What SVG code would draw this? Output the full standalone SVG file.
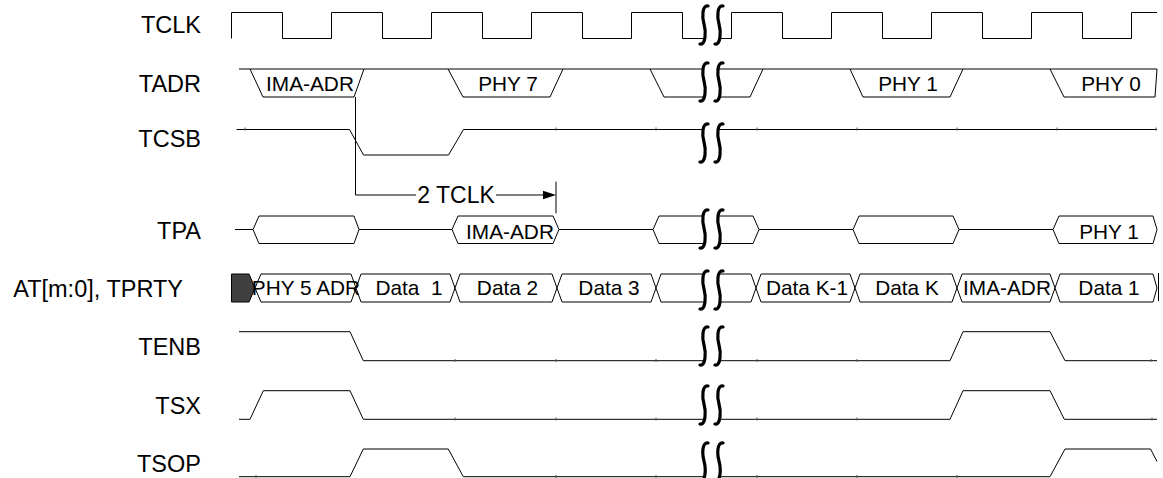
<svg xmlns="http://www.w3.org/2000/svg" xmlns:xlink="http://www.w3.org/1999/xlink" width="1163" height="478" viewBox="0 0 1163 478">
<style>
.sig{fill:none;stroke:#000;stroke-width:1}
.box{fill:#fff;stroke:#000;stroke-width:1}
.dark{fill:#404040;stroke:#000;stroke-width:1}
.lbl{font-family:"Liberation Sans",Arial,sans-serif;font-size:23.5px;text-anchor:end;fill:#000}
.in{font-family:"Liberation Sans",Arial,sans-serif;font-size:20.8px;text-anchor:middle;fill:#000}
.ann{font-family:"Liberation Sans",Arial,sans-serif;font-size:23px;text-anchor:middle;fill:#000}
.tick{stroke:#555;stroke-width:1}
.brkf{fill:#fff;stroke:none}
.brks{fill:none;stroke:#000;stroke-width:3.2;stroke-linecap:round}
</style>
<defs>
<g id="brk">
<path class="brkf" d="M4,-19 C-2,-20 -2,-8 0,-1 C2,6 2,20 -4,19 L11,19 C17,20 17,6 15,-1 C13,-8 13,-20 19,-19 Z"/>
<path class="brks" d="M4,-19 C-2,-20 -2,-8 0,-1 C2,6 2,20 -4,19"/>
<path class="brks" d="M19,-19 C13,-20 13,-8 15,-1 C17,6 17,20 11,19"/>
</g>
</defs>
<rect width="1163" height="478" fill="#fff"/>

<g id="labels">
<text class="lbl" x="201" y="33">TCLK</text>
<text class="lbl" x="201" y="91.5">TADR</text>
<text class="lbl" x="201" y="147">TCSB</text>
<text class="lbl" x="201" y="238.5">TPA</text>
<text class="lbl" x="183" y="296.5">AT[m:0], TPRTY</text>
<text class="lbl" x="201" y="355">TENB</text>
<text class="lbl" x="201" y="413.5">TSX</text>
<text class="lbl" x="201" y="472">TSOP</text>
</g>

<g id="TCLK">
<path class="sig" d="M231.5,38.5 V12.5 H282.5 V38.5 H331.5 V12.5 H382.5 V38.5 H431.5 V12.5 H482.5 V38.5 H531.5 V12.5 H582.5 V38.5 H631.5 V12.5 H682.5 V38.5 H731.5 V12.5 H782.5 V38.5 H831.5 V12.5 H882.5 V38.5 H931.5 V12.5 H982.5 V38.5 H1031.5 V12.5 H1082.5 V38.5 H1131.5 V12.5 H1157"/>
</g>

<g id="TADR">
<path class="sig" d="M239,69 H1157"/>
<polyline class="sig" points="250,69 263,97 354,97 364,69"/>
<polyline class="sig" points="448,69 463,97 550,97 563,69"/>
<polyline class="sig" points="650,69 664,97 750,97 763,69"/>
<polyline class="sig" points="850,69 863,97 950,97 963,69"/>
<polyline class="sig" points="1050,69 1064,97 1155,97 1157,69"/>
<text class="in" x="310" y="91">IMA-ADR</text>
<text class="in" x="508" y="91">PHY 7</text>
<text class="in" x="908" y="91">PHY 1</text>
<text class="in" x="1111" y="91">PHY 0</text>
</g>

<g id="TCSB">
<path class="sig" d="M236.5,129.5 H349.5 L363.5,155 H448.5 L463.5,129.5 H1157"/>
</g>

<g id="TPA">
<path class="sig" d="M235,229.5 H1157"/>
<polygon class="box" points="253,229.5 259,216 354,216 359,229.5 354,243.5 259,243.5"/>
<polygon class="box" points="452,229.5 458,216 553,216 559,229.5 553,243.5 458,243.5"/>
<polygon class="box" points="653,229.5 659,216 753,216 759,229.5 753,243.5 659,243.5"/>
<polygon class="box" points="853,229.5 859,216 953,216 959,229.5 953,243.5 859,243.5"/>
<polygon class="box" points="1053,229.5 1059,216 1153,216 1157,229.5 1153,243.5 1059,243.5"/>
<text class="in" x="510" y="238.5">IMA-ADR</text>
<text class="in" x="1109" y="238.5">PHY 1</text>
</g>

<g id="AT">
<polygon class="dark" points="231.5,274 249,274 255,288 249,302 231.5,302"/>
<polygon class="box" points="255,288 261,274 351,274 356,288 351,302 261,302"/>
<polygon class="box" points="356,288 361,274 450,274 455,288 450,302 361,302"/>
<polygon class="box" points="455,288 460,274 552,274 557,288 552,302 460,302"/>
<polygon class="box" points="557,288 562,274 651,274 656,288 651,302 562,302"/>
<polygon class="box" points="656,288 661,274 751,274 756,288 751,302 661,302"/>
<polygon class="box" points="756,288 761,274 850,274 855,288 850,302 761,302"/>
<polygon class="box" points="855,288 860,274 952,274 957,288 952,302 860,302"/>
<polygon class="box" points="957,288 962,274 1050,274 1055,288 1050,302 962,302"/>
<polygon class="box" points="1055,288 1060,274 1153,274 1157,288 1153,302 1060,302"/>
<line class="sig" x1="1158.5" y1="273" x2="1158.5" y2="301"/>
<text class="in" x="306" y="295">PHY 5 ADR</text>
<text class="in" x="409" y="295" style="white-space:pre">Data  1</text>
<text class="in" x="507.5" y="295">Data 2</text>
<text class="in" x="609" y="295">Data 3</text>
<text class="in" x="807" y="295">Data K-1</text>
<text class="in" x="907" y="295">Data K</text>
<text class="in" x="1007" y="295">IMA-ADR</text>
<text class="in" x="1109" y="295">Data 1</text>
</g>

<g id="TENB">
<path class="sig" d="M239,331.7 H350 L363.3,360.7 H950 L963,331.7 H1050 L1065,360.7 H1157"/>
</g>

<g id="TSX">
<path class="sig" d="M239,419.3 H250 L263.3,390.7 H350 L363.3,419.3 H950 L963,390.7 H1050 L1064.3,419.3 H1157"/>
</g>

<g id="TSOP">
<path class="sig" d="M239,476.7 H350 L363.3,449 H448.3 L463.3,476.7 H1050 L1065,449 H1150.5 L1157,461.5"/>
</g>

<g id="ticks">
<path class="tick" d="M245,127.5v3 M556,127.5v3 M656,127.5v3 M757,127.5v3 M857,127.5v3 M957,127.5v3 M1057,127.5v3 M1156,127.5v3
M455,359v3 M556,359v3 M656,359v3 M757,359v3 M857,359v3 M1151,359v3
M455,417.5v3 M556,417.5v3 M656,417.5v3 M757,417.5v3 M857,417.5v3 M1152,417.5v3
M256,475v3 M556,475v3 M656,475v3 M757,475v3 M857,475v3 M957,475v3"/>
</g>

<g id="connectors">
<line class="sig" x1="355.5" y1="97" x2="355.5" y2="195"/>
<line class="sig" x1="355.5" y1="195" x2="416" y2="195"/>
<line class="sig" x1="496" y1="195" x2="545" y2="195"/>
<polygon points="556,195 543,190.7 543,199.3" fill="#000"/>
<line class="sig" x1="556" y1="181.7" x2="556" y2="213.3"/>
<text class="ann" x="456" y="203.3">2 TCLK</text>
</g>

<g id="breaks">
<use xlink:href="#brk" x="704" y="25"/>
<use xlink:href="#brk" x="704" y="82"/>
<use xlink:href="#brk" x="704" y="143"/>
<use xlink:href="#brk" x="704" y="229"/>
<use xlink:href="#brk" x="704" y="290"/>
<use xlink:href="#brk" x="704" y="346"/>
<use xlink:href="#brk" x="704" y="405"/>
<use xlink:href="#brk" x="704" y="462"/>
</g>
</svg>
